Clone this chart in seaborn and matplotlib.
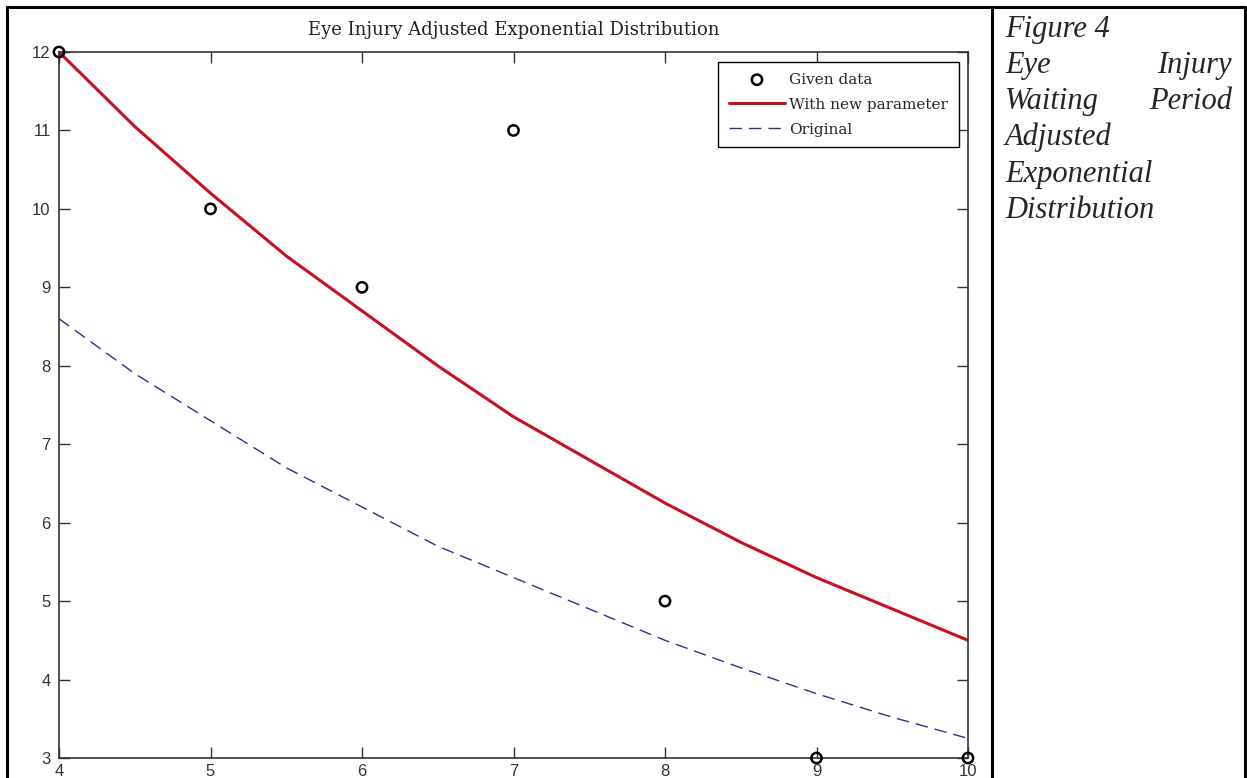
import matplotlib
matplotlib.use('agg')
import matplotlib.pyplot as plt
import seaborn as sns
import pandas as pd
from matplotlib.lines import Line2D

# data
x_given = [4, 5, 6, 7, 8, 9, 10]
y_given = [12, 10, 9, 11, 5, 3, 3]
x_curve = [4, 4.5, 5, 5.5, 6, 6.5, 7, 7.5, 8, 8.5, 9, 9.5, 10]
y_new = [12.0, 11.05, 10.2, 9.4, 8.7, 8.0, 7.35, 6.8, 6.25, 5.75, 5.3, 4.9, 4.5]
y_orig = [8.6, 7.9, 7.3, 6.7, 6.2, 5.7, 5.3, 4.9, 4.5, 4.15, 3.82, 3.52, 3.25]
x_ticks = [4, 5, 6, 7, 8, 9, 10]
y_ticks = [3, 4, 5, 6, 7, 8, 9, 10, 11, 12]
title = "Eye Injury Adjusted Exponential Distribution"

sns.set_theme(style="white")
plt.rcParams['font.family'] = ['DejaVu Serif']

df_given = pd.DataFrame({"x": x_given, "y": y_given})
df_curve = pd.DataFrame({"x": x_curve, "new": y_new, "orig": y_orig})

fig = plt.figure(figsize=(12.47, 7.78), dpi=100)
ax = fig.add_axes([59/1247, 20/778, 909/1247, 706/778])

sns.lineplot(data=df_curve, x="x", y="new", ax=ax, color="#c8101e", linewidth=2.2,
             label="With new parameter", sort=False)
sns.lineplot(data=df_curve, x="x", y="orig", ax=ax, color="#30308f", linewidth=1.0,
             dashes=False, label="Original", sort=False)
ax.lines[-1].set_dashes([9, 5])
sns.scatterplot(data=df_given, x="x", y="y", ax=ax, marker="o", s=55,
                facecolor="none", edgecolor="black", linewidth=1.8,
                label="Given data", zorder=5, clip_on=False)

ax.set_xlim(4, 10)
ax.set_ylim(3, 12)
ax.set_xticks(x_ticks)
ax.set_yticks(y_ticks)
ax.set_xlabel("")
ax.set_ylabel("")
ax.set_title(title, fontsize=13, family="DejaVu Serif", pad=12, color="#222222")

for s in ax.spines.values():
    s.set_color("#333333")
    s.set_linewidth(1.2)
ax.tick_params(direction="in", length=8, width=1, color="#333333",
               top=True, right=True, bottom=True, left=True,
               labelsize=12, labelcolor="#333333")
ax.tick_params(axis="x", pad=4)
ax.tick_params(axis="y", pad=6)
for lab in ax.get_xticklabels() + ax.get_yticklabels():
    lab.set_family("Liberation Sans")

h, l = ax.get_legend_handles_labels()
order = [l.index("Given data"), l.index("With new parameter"), l.index("Original")]
leg = ax.legend([h[i] for i in order], [l[i] for i in order], loc="upper right",
                bbox_to_anchor=(0.990, 0.9858), fontsize=11, frameon=True,
                fancybox=False, edgecolor="black", framealpha=1,
                handlelength=3.7, handletextpad=0.27, labelspacing=0.72,
                borderpad=0.7, borderaxespad=0)
leg.get_frame().set_linewidth(1.0)
for t in leg.get_texts():
    t.set_family("DejaVu Serif")

# table borders around the figure
W, H = 1247, 778
def px_line(x0, y0, x1, y1):
    fig.add_artist(Line2D([x0/W, x1/W], [1 - y0/H, 1 - y1/H], color="black",
                          linewidth=2.2, transform=fig.transFigure))
px_line(7, 7, 1245, 7)
px_line(7, 7, 7, 778)
px_line(992, 7, 992, 778)
px_line(1245, 7, 1245, 778)

# caption text in the right cell
cap_kw = dict(fontsize=22, family="Liberation Serif", style="italic", va="baseline")
left_x = 1005/W
right_x = 1232/W
rows = [37, 73, 109, 145, 182, 218]
fig.text(left_x, 1 - rows[0]/H, "Figure 4", ha="left", **cap_kw)
fig.text(left_x, 1 - rows[1]/H, "Eye", ha="left", **cap_kw)
fig.text(right_x, 1 - rows[1]/H, "Injury", ha="right", **cap_kw)
fig.text(left_x, 1 - rows[2]/H, "Waiting", ha="left", **cap_kw)
fig.text(right_x, 1 - rows[2]/H, "Period", ha="right", **cap_kw)
fig.text(left_x, 1 - rows[3]/H, "Adjusted", ha="left", **cap_kw)
fig.text(left_x, 1 - rows[4]/H, "Exponential", ha="left", **cap_kw)
fig.text(left_x, 1 - rows[5]/H, "Distribution", ha="left", **cap_kw)

fig.savefig("out.png", dpi=100)
